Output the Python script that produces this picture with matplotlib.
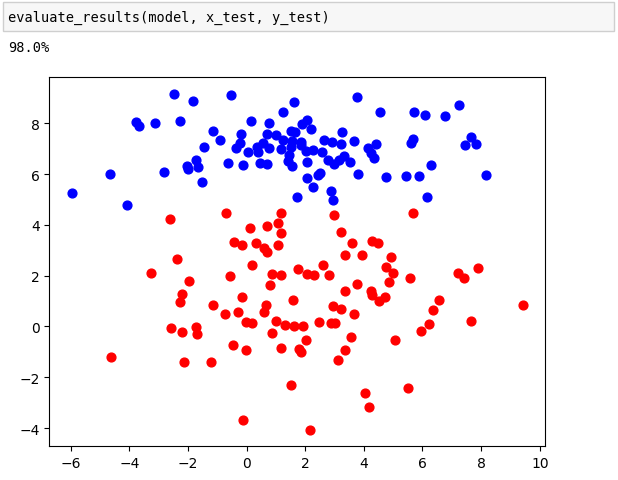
import matplotlib
matplotlib.use("Agg")
import matplotlib.pyplot as plt
from matplotlib.patches import Rectangle

code_text = "evaluate_results(model, x_test, y_test)"
output_text = "98.0%"

blue_x = [-2.49, -1.82, -0.52, -3.77, -3.66, -3.14, -2.27, -4.65, -5.96, -4.07,
          -2.82, -1.52, -2.02, -2.00, -1.73, -1.64, -1.44, -1.16, -0.92, -0.64,
          -0.11, -0.36, -0.23, -0.20, 0.15, 0.04, 0.34, 0.39, 0.45, 0.68,
          0.57, 0.68, 0.75, 0.75, 0.99, 1.25, 1.63, 1.16, 1.25, 1.50,
          1.64, 1.44, 1.41, 1.56, 1.50, 1.56, 1.73, 3.75, 4.54, 5.72,
          6.07, 6.77, 7.25, 2.05, 1.90, 2.21, 3.26, 2.64, 2.93, 3.22,
          3.67, 1.84, 2.01, 2.27, 2.56, 2.79, 2.98, 3.15, 3.32, 3.52,
          2.06, 4.15, 4.43, 4.23, 4.34, 3.79, 4.74, 5.44, 5.89, 6.28,
          5.67, 5.60, 7.66, 7.44, 7.83, 8.16, 2.06, 2.51, 2.27, 2.87,
          2.96, 6.15, 2.45, 1.86]
blue_y = [9.15, 8.89, 9.10, 8.04, 7.91, 8.02, 8.08, 6.00, 5.27, 4.78,
          6.07, 5.67, 6.32, 6.19, 6.55, 6.29, 7.07, 7.69, 7.34, 6.43,
          6.36, 7.03, 7.21, 7.58, 8.10, 6.86, 7.06, 6.88, 6.45, 6.39,
          7.24, 7.57, 7.03, 8.00, 7.54, 8.46, 8.85, 6.99, 7.34, 7.71,
          7.67, 6.75, 6.52, 6.33, 7.08, 7.32, 5.09, 9.02, 8.43, 8.46,
          8.34, 8.30, 8.73, 8.12, 7.96, 7.78, 7.65, 7.33, 7.28, 7.17,
          7.29, 7.28, 6.91, 6.95, 6.86, 6.56, 6.39, 6.56, 6.73, 6.47,
          6.49, 7.02, 7.17, 6.82, 6.62, 6.00, 5.90, 5.94, 5.92, 6.36,
          7.37, 7.21, 7.47, 7.15, 7.20, 5.97, 5.86, 6.04, 5.49, 5.35,
          4.99, 5.10, 5.97, 7.15]

red_x = [-2.62, -0.69, 1.18, 1.07, 0.68, 0.10, 1.17, -0.44, -0.17, 0.33,
         0.61, 0.69, 1.06, -2.38, 0.20, -3.25, -0.55, 0.86, 1.19, 1.75,
         2.07, -1.97, 0.79, -2.19, -2.28, -0.14, -1.15, 0.67, 0.60, 1.58,
         -0.72, -0.30, -0.02, 0.19, 1.01, 1.30, 1.61, 1.91, -2.59, -2.19,
         -1.73, -1.69, 0.85, 2.02, -0.47, -0.02, 1.16, 1.80, 1.85, -4.64,
         -2.14, -1.22, 2.99, 5.67, 3.22, 3.61, 4.29, 4.48, 3.37, 3.93,
         4.93, 4.75, 5.01, 4.87, 5.57, 2.60, 2.29, 2.80, 3.37, 3.77,
         4.23, 4.27, 4.52, 4.73, 7.22, 7.41, 7.89, 6.56, 6.35, 6.23,
         5.96, 7.67, 9.42, 2.94, 3.22, 3.65, 2.48, 2.87, 3.02, 3.56,
         3.34, 3.11, 5.05, 1.52, 4.03, 5.50, 4.18, -0.12, 2.15]
red_y = [4.24, 4.45, 4.48, 4.08, 3.94, 3.87, 3.66, 3.34, 3.19, 3.30,
         3.09, 2.93, 3.19, 2.66, 2.42, 2.09, 1.99, 2.08, 2.01, 2.25,
         2.08, 1.79, 1.65, 1.28, 0.98, 1.14, 0.83, 0.83, 0.57, 1.03,
         0.50, 0.57, 0.19, 0.15, 0.20, 0.07, 0.01, 0.00, -0.06, -0.20,
         -0.03, -0.28, -0.24, -0.55, -0.72, -0.91, -0.86, -0.88, -1.01, -1.22,
         -1.39, -1.41, 4.37, 4.46, 3.70, 3.28, 3.38, 3.30, 2.83, 2.83,
         2.75, 2.33, 2.11, 1.75, 1.92, 2.40, 2.01, 2.01, 1.41, 1.67,
         1.41, 1.25, 1.01, 1.15, 2.09, 1.91, 2.30, 1.03, 0.65, 0.09,
         -0.19, 0.22, 0.83, 0.81, 0.69, 0.48, 0.18, 0.14, 0.14, -0.40,
         -0.92, -1.31, -0.55, -2.32, -2.61, -2.43, -3.19, -3.69, -4.06]

W, H = 618, 481
fig = plt.figure(figsize=(W / 100, H / 100), dpi=100)
fig.patch.set_facecolor("white")

# notebook code cell box
fig.patches.append(Rectangle((2.7 / W, 1 - 31.7 / H), 611.6 / W, 29.0 / H,
                             transform=fig.transFigure, facecolor="#f7f7f7",
                             edgecolor="#cfcfcf", linewidth=1.0))
fig.text(8.3 / W, 1 - 21.7 / H, code_text, family="DejaVu Sans Mono",
         fontsize=9.8, va="baseline", ha="left", color="#000000")
fig.text(8.3 / W, 1 - 51.7 / H, output_text, family="DejaVu Sans Mono",
         fontsize=9.8, va="baseline", ha="left", color="#000000")

ax = fig.add_axes([49.3 / W, 1 - 447.3 / H, 496.0 / W, 369.0 / H])
ax.scatter(blue_x, blue_y, c="b", s=40)
ax.scatter(red_x, red_y, c="r", s=40)
ax.set_xticks([-6, -4, -2, 0, 2, 4, 6, 8, 10])
ax.set_yticks([-4, -2, 0, 2, 4, 6, 8])
ax.tick_params(labelsize=10)

fig.savefig("out.png", dpi=100)
